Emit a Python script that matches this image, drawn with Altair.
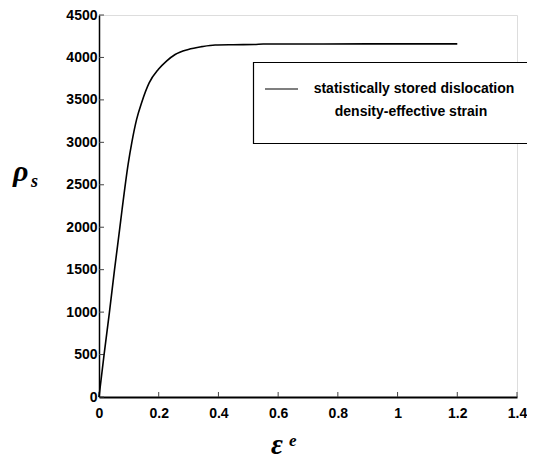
import altair as alt
import pandas as pd

# curve values
strain = [0, 0.017, 0.035, 0.052, 0.070, 0.077, 0.098, 0.110, 0.126,
          0.143, 0.168, 0.199, 0.227, 0.255, 0.299, 0.344, 0.389, 0.45, 0.52, 0.55,
          0.70, 0.90, 1.10, 1.20]
rho = [0, 500, 1000, 1500, 2000, 2200, 2753, 3000, 3270,
       3470, 3700, 3860, 3960, 4035, 4094, 4127, 4147, 4150, 4152, 4158,
       4158, 4160, 4160, 4160]

x_ticks = [0, 0.2, 0.4, 0.6, 0.8, 1.0, 1.2, 1.4]
y_ticks = [0, 500, 1000, 1500, 2000, 2500, 3000, 3500, 4000, 4500]
legend_lines = ["statistically stored dislocation", "density-effective strain"]

W, H = 418, 382

df = pd.DataFrame({"strain": strain, "rho": rho})
xt = pd.DataFrame({"v": x_ticks})
yt = pd.DataFrame({"v": y_ticks})

xscale = alt.Scale(domain=[0, 1.4], nice=False)
yscale = alt.Scale(domain=[0, 4500], nice=False)

line = alt.Chart(df).mark_line(color="black", strokeWidth=1.6, clip=False,
                               interpolate="monotone").encode(
    x=alt.X("strain:Q", scale=xscale,
            axis=alt.Axis(values=x_ticks, title=None, grid=False, ticks=False,
                          domainColor="black", domainWidth=2,
                          labelFont="Liberation Sans", labelFontWeight="bold",
                          labelFontSize=14, labelColor="black", labelPadding=9,
                          labelExpr="datum.value == 1 ? '1' : format(datum.value, '.1~f')",
                          labelFlush=False)),
    y=alt.Y("rho:Q", scale=yscale,
            axis=alt.Axis(values=y_ticks, title=None, grid=False, ticks=False,
                          domainColor="black", domainWidth=1.5,
                          labelFont="Liberation Sans", labelFontWeight="bold",
                          labelFontSize=14, labelColor="black", labelPadding=2,
                          format="d", labelFlush=False)),
)

xtick_marks = alt.Chart(xt).mark_rule(color="#444", strokeWidth=1).encode(
    x=alt.X("v:Q", scale=xscale), y=alt.value(H), y2=alt.value(H - 5))
ytick_marks = alt.Chart(yt).mark_rule(color="#444", strokeWidth=1).encode(
    y=alt.Y("v:Q", scale=yscale), x=alt.value(0), x2=alt.value(5))

box = alt.Chart(pd.DataFrame({"a": [0]})).mark_rect(
    fill="white", stroke="black", strokeWidth=1.2, clip=False).encode(
    x=alt.value(154.5), x2=alt.value(445), y=alt.value(47.5), y2=alt.value(128.5))
sample = alt.Chart(pd.DataFrame({"a": [0]})).mark_rule(
    color="black", strokeWidth=1.2).encode(
    x=alt.value(166), x2=alt.value(199), y=alt.value(74), y2=alt.value(74))

leg1 = alt.Chart(pd.DataFrame({"t": [legend_lines[0]]})).mark_text(
    font="Liberation Sans", fontWeight="bold", fontSize=14, color="black",
    align="center", baseline="middle").encode(
    text="t:N", x=alt.value(315), y=alt.value(74))
leg2 = alt.Chart(pd.DataFrame({"t": [legend_lines[1]]})).mark_text(
    font="Liberation Sans", fontWeight="bold", fontSize=14, color="black",
    align="center", baseline="middle").encode(
    text="t:N", x=alt.value(312), y=alt.value(97))

rho_lbl = alt.Chart(pd.DataFrame({"t": ["ρ"]})).mark_text(
    font="Liberation Serif", fontStyle="italic", fontWeight="bold", fontSize=30,
    color="black", align="left", baseline="alphabetic").encode(
    text="t:N", x=alt.value(-86), y=alt.value(166))
s_lbl = alt.Chart(pd.DataFrame({"t": ["s"]})).mark_text(
    font="Liberation Serif", fontStyle="italic", fontWeight="bold", fontSize=18,
    color="black", align="left", baseline="alphabetic").encode(
    text="t:N", x=alt.value(-68), y=alt.value(172))
eps_lbl = alt.Chart(pd.DataFrame({"t": ["ε"]})).mark_text(
    font="Liberation Serif", fontStyle="italic", fontWeight="bold", fontSize=29,
    color="black", align="left", baseline="alphabetic").encode(
    text="t:N", x=alt.value(172), y=alt.value(439))
e_lbl = alt.Chart(pd.DataFrame({"t": ["e"]})).mark_text(
    font="Liberation Serif", fontStyle="italic", fontWeight="bold", fontSize=17,
    color="black", align="left", baseline="alphabetic").encode(
    text="t:N", x=alt.value(190), y=alt.value(431))

chart = alt.layer(
    xtick_marks, ytick_marks, line, box, sample, leg1, leg2,
    rho_lbl, s_lbl, eps_lbl, e_lbl
).properties(
    width=W, height=H,
    autosize=alt.AutoSizeParams(type="none"),
    padding={"left": 91, "top": 7, "right": 10, "bottom": 64},
).configure_view(stroke=None).configure(background="white")

chart.save("out.html", embed_options={"renderer": "svg", "actions": False})
